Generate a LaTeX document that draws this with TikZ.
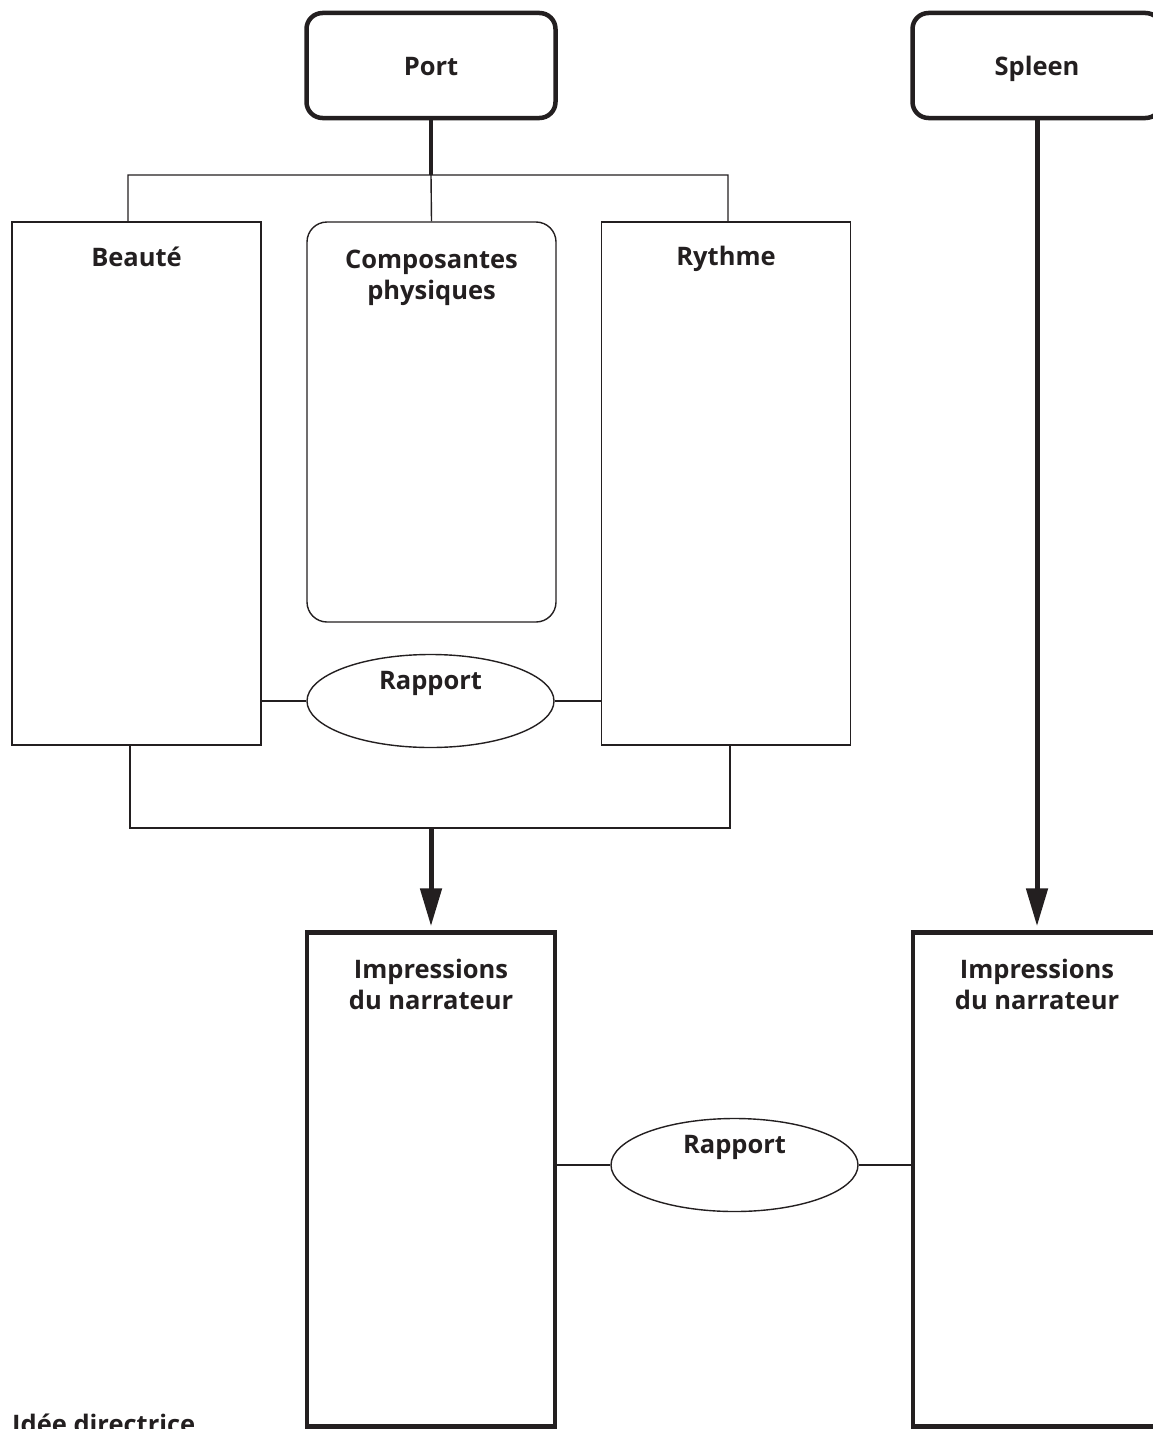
\documentclass[tikz,border=0pt]{standalone}
\usepackage{fontspec}
\setmainfont{Open Sans}
\usetikzlibrary{positioning, arrows.meta, shapes.geometric}
\definecolor{ink}{HTML}{231F20}

\begin{document}
\begin{tikzpicture}[x=1pt,y=-1pt,
    ttl/.style={font=\bfseries\fontsize{25.5}{31}\selectfont, text=ink, align=center, inner sep=0pt},
    thin/.style={draw=ink, line width=1.4pt},
    box/.style={thin, inner sep=0pt, minimum width=249pt},
    topbox/.style={draw=ink, line width=4.5pt, rounded corners=16pt, inner sep=0pt,
        minimum width=249pt, minimum height=105pt, ttl, text height=19pt, text depth=0pt},
    impbox/.style={draw=ink, line width=4.5pt, inner sep=0pt, minimum width=248pt, minimum height=494pt},
    rap/.style={thin, ellipse, inner sep=0pt, minimum width=247pt, minimum height=93pt,
        label={[ttl, anchor=north, yshift=-17pt]north:Rapport}},
    title/.style={label={[ttl, anchor=north, yshift=-25pt]north:{#1}}},
    twoline/.style={label={[ttl, anchor=north, yshift=-29pt]north:{#1}}},
    flow/.style={draw=ink, line width=5pt, -{Triangle[width=21pt,length=38pt]}, shorten >=4pt}]
    \useasboundingbox (0,0) rectangle (1152,1429);

    % top row
    \node[topbox] (port) at (431,65.5) {Port};
    \node[topbox] (spleen) at (1037,65.5) {Spleen};

    % three boxes under Port
    \node[box, minimum height=523pt, title=Beauté] (beaute) at (136.5,483.5) {};
    \node[box, minimum height=400pt, rounded corners=20pt, twoline={Composantes\\physiques}] (compo) at (431.5,422) {};
    \node[box, minimum height=523pt, title=Rythme] (rythme) at (726,483.5) {};
    \node[rap] (rap1) at (430.5,701) {};

    % two boxes at the bottom
    \node[impbox, twoline={Impressions\\du narrateur}] (imp1) at (431,1179.5) {};
    \node[impbox, twoline={Impressions\\du narrateur}] (imp2) at (1037,1179.5) {};
    \node[rap] (rap2) at (734.5,1165) {};

    \node[ttl, anchor=base west] (idee) at (12,1433) {Idée directrice};

    \coordinate (pj) at (431,175);
    \coordinate (tl) at (128,175);
    \coordinate (tr) at (728,175);
    \coordinate (bl) at (130,828);
    \coordinate (br) at (730,828);

    \draw[draw=ink, line width=4.5pt] (port.south) -- (pj);
    \draw[thin] (tl |- beaute.north) -- (tl) -- (tr) -- (tr |- rythme.north)
        (pj) -- (compo.north);
    \draw[thin] (bl |- beaute.south) -- (bl) -- (br) -- (br |- rythme.south);
    \draw[thin] (rap1.west -| beaute.east) -- (rap1.west)
        (rap1.east) -- (rap1.east -| rythme.west);
    \draw[thin] (rap2.west -| imp1.east) -- (rap2.west)
        (rap2.east) -- (rap2.east -| imp2.west);

    \draw[flow] (imp1.north |- bl) -- (imp1.north);
    \draw[flow] (spleen.south) -- (imp2.north);
\end{tikzpicture}
\end{document}
